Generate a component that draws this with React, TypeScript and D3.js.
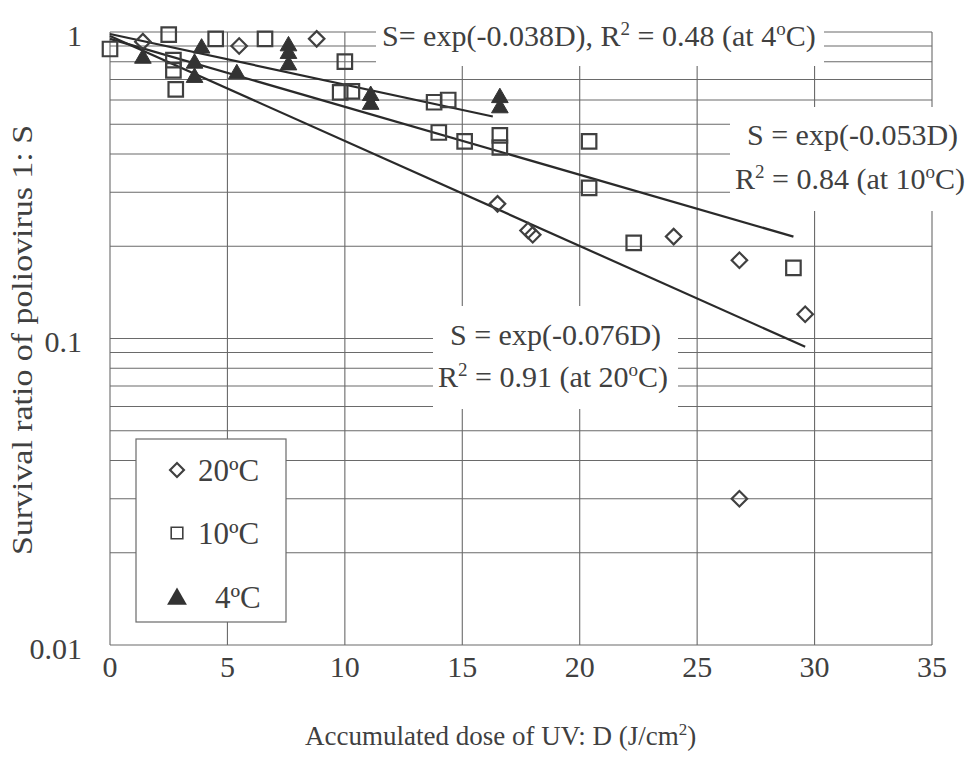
import React from "react";
import * as d3 from "d3";

// ---- data ----
const xTickValues = [0, 5, 10, 15, 20, 25, 30, 35];
const yLabelValues = [1, 0.1, 0.01];
const yLabelTexts = ["1", "0.1", "0.01"];

const series20 = [
  { d: 1.4, s: 0.93 }, { d: 5.5, s: 0.9 }, { d: 8.8, s: 0.95 },
  { d: 16.5, s: 0.275 }, { d: 17.8, s: 0.225 }, { d: 18.0, s: 0.218 },
  { d: 24.0, s: 0.215 }, { d: 26.8, s: 0.18 }, { d: 26.8, s: 0.03 },
  { d: 29.6, s: 0.12 },
];
const series10 = [
  { d: 0, s: 0.88 }, { d: 2.5, s: 0.98 }, { d: 2.7, s: 0.81 }, { d: 2.7, s: 0.75 },
  { d: 2.8, s: 0.65 }, { d: 4.5, s: 0.95 }, { d: 6.6, s: 0.95 }, { d: 10.0, s: 0.8 },
  { d: 9.8, s: 0.635 }, { d: 10.3, s: 0.64 }, { d: 13.8, s: 0.59 }, { d: 14.4, s: 0.6 },
  { d: 14.0, s: 0.47 }, { d: 15.1, s: 0.44 }, { d: 16.6, s: 0.46 }, { d: 16.6, s: 0.42 },
  { d: 20.4, s: 0.44 }, { d: 20.4, s: 0.31 }, { d: 22.3, s: 0.205 }, { d: 29.1, s: 0.17 },
];
const series4 = [
  { d: 1.4, s: 0.82 }, { d: 3.6, s: 0.79 }, { d: 3.6, s: 0.71 }, { d: 3.9, s: 0.885 },
  { d: 5.4, s: 0.73 }, { d: 7.6, s: 0.9 }, { d: 7.6, s: 0.85 }, { d: 7.6, s: 0.78 },
  { d: 11.1, s: 0.62 }, { d: 11.1, s: 0.58 }, { d: 16.6, s: 0.61 }, { d: 16.6, s: 0.565 },
];
const fitLines = [
  { name: "4", d0: 0, s0: 0.985, d1: 16.3, s1: 0.53 },
  { name: "10", d0: 0, s0: 0.95, d1: 29.1, s1: 0.215 },
  { name: "20", d0: 0, s0: 0.97, d1: 29.6, s1: 0.094 },
];

const W = 972, H = 766;
const INK = "#404040";
const GRID = "#6a6a6a";
const FONT = "'Liberation Serif', 'Times New Roman', serif";

// segments: [text, isSuperscript]
type Seg = [string, boolean];
function RichText(props: { x: number; y: number; segs: Seg[]; fontSize: number; supSize?: number }) {
  const { x, y, segs, fontSize } = props;
  const supSize = props.supSize ?? Math.round(fontSize * 0.62);
  const rise = Math.round(fontSize * 0.37);
  let prevSup = false;
  return (
    <text x={x} y={y} fontSize={fontSize} fill={INK}>
      {segs.map(([t, isSup], i) => {
        let dy = 0;
        if (isSup && !prevSup) dy = -rise;
        if (!isSup && prevSup) dy = rise;
        prevSup = isSup;
        return (
          <tspan key={i} dy={dy || undefined} fontSize={isSup ? supSize : undefined}>
            {t}
          </tspan>
        );
      })}
    </text>
  );
}

export default function App() {
  const x = d3.scaleLinear().domain([0, 35]).range([110, 932]);
  const y = d3.scaleLog().domain([0.01, 1]).range([645, 32]);
  const gridY = y.ticks();
  const line = d3.line<{ d: number; s: number }>().x((p) => x(p.d)).y((p) => y(p.s));

  const sq = d3.symbol(d3.symbolSquare, 210)();
  const dia = d3.symbol(d3.symbolSquare, 120)();
  const tri = d3.symbol(d3.symbolTriangle, 120)();
  const triLegend = d3.symbol(d3.symbolTriangle, 170)();

  return (
    <svg width={W} height={H} style={{ position: "absolute", left: 0, top: 0, background: "#fff" }}
      fontFamily={FONT}>
      <rect x={0} y={0} width={W} height={H} fill="#fff" />
      {/* gridlines */}
      <g stroke={GRID} strokeWidth={1.1} fill="none">
        {gridY.map((v, i) => (
          <line key={"h" + i} x1={x(0)} x2={x(35)} y1={y(v)} y2={y(v)} />
        ))}
        {xTickValues.map((v) => (
          <line key={"v" + v} x1={x(v)} x2={x(v)} y1={y(1)} y2={y(0.01)} />
        ))}
      </g>
      {/* annotation backgrounds */}
      <rect x={376} y={12} width={448} height={54} fill="#fff" />
      <rect x={730} y={107} width={240} height={104} fill="#fff" />
      <rect x={433} y={306} width={245} height={103} fill="#fff" />

      {/* fitted lines */}
      <g stroke="#2a2a2a" strokeWidth={2.2} fill="none">
        {fitLines.map((f) => (
          <path key={f.name} d={line([{ d: f.d0, s: f.s0 }, { d: f.d1, s: f.s1 }]) || ""} />
        ))}
      </g>

      {/* points */}
      <g fill="none" stroke={INK} strokeWidth={2.2}>
        {series10.map((p, i) => (
          <path key={"s" + i} d={sq || ""} transform={`translate(${x(p.d)},${y(p.s)})`} />
        ))}
        {series20.map((p, i) => (
          <path key={"d" + i} d={dia || ""} transform={`translate(${x(p.d)},${y(p.s)}) rotate(45)`} />
        ))}
      </g>
      <g fill="#333" stroke="#333" strokeWidth={1}>
        {series4.map((p, i) => (
          <path key={"t" + i} d={tri || ""} transform={`translate(${x(p.d)},${y(p.s)})`} />
        ))}
      </g>

      {/* annotations */}
      <RichText x={382} y={46} fontSize={30}
        segs={[["S= exp(-0.038D), R", false], ["2", true], [" = 0.48 (at 4", false], ["o", true], ["C)", false]]} />
      <RichText x={747} y={145} fontSize={30} segs={[["S = exp(-0.053D)", false]]} />
      <RichText x={735} y={189} fontSize={30}
        segs={[["R", false], ["2", true], [" = 0.84 (at 10", false], ["o", true], ["C)", false]]} />
      <RichText x={450} y={345} fontSize={30} segs={[["S = exp(-0.076D)", false]]} />
      <RichText x={438} y={387} fontSize={30}
        segs={[["R", false], ["2", true], [" = 0.91 (at 20", false], ["o", true], ["C)", false]]} />

      {/* legend */}
      <rect x={136} y={439} width={150} height={183} fill="#fff" stroke={GRID} strokeWidth={1.2} />
      <path d={dia || ""} transform="translate(177,470) rotate(45) scale(0.9)" fill="none" stroke={INK} strokeWidth={2.4} />
      <path d={sq || ""} transform="translate(177,533) scale(0.8)" fill="none" stroke={INK} strokeWidth={2} />
      <path d={triLegend || ""} transform="translate(177,599)" fill="#333" />
      <g fill={INK} fontSize={31}>
        <text x={198} y={481}>20ºC</text>
        <text x={198} y={544}>10ºC</text>
        <text x={215} y={608}>4ºC</text>
      </g>

      {/* axis tick labels */}
      <g fill={INK} fontSize={30}>
        {yLabelValues.map((v, i) => (
          <text key={"yl" + i} x={82} y={y(v) + 3} textAnchor="end" dominantBaseline="central">
            {yLabelTexts[i]}
          </text>
        ))}
        {xTickValues.map((v) => (
          <text key={"xl" + v} x={x(v)} y={666} textAnchor="middle" dominantBaseline="central">
            {v}
          </text>
        ))}
      </g>

      {/* axis titles */}
      <RichText x={305} y={745} fontSize={27}
        segs={[["Accumulated dose of UV: D (J/cm", false], ["2", true], [")", false]]} />
      <text transform="translate(32,340) rotate(-90)" textAnchor="middle" fontSize={30} fill={INK}
        textLength={430} lengthAdjust="spacingAndGlyphs">
        Survival ratio of poliovirus 1: S
      </text>
    </svg>
  );
}
